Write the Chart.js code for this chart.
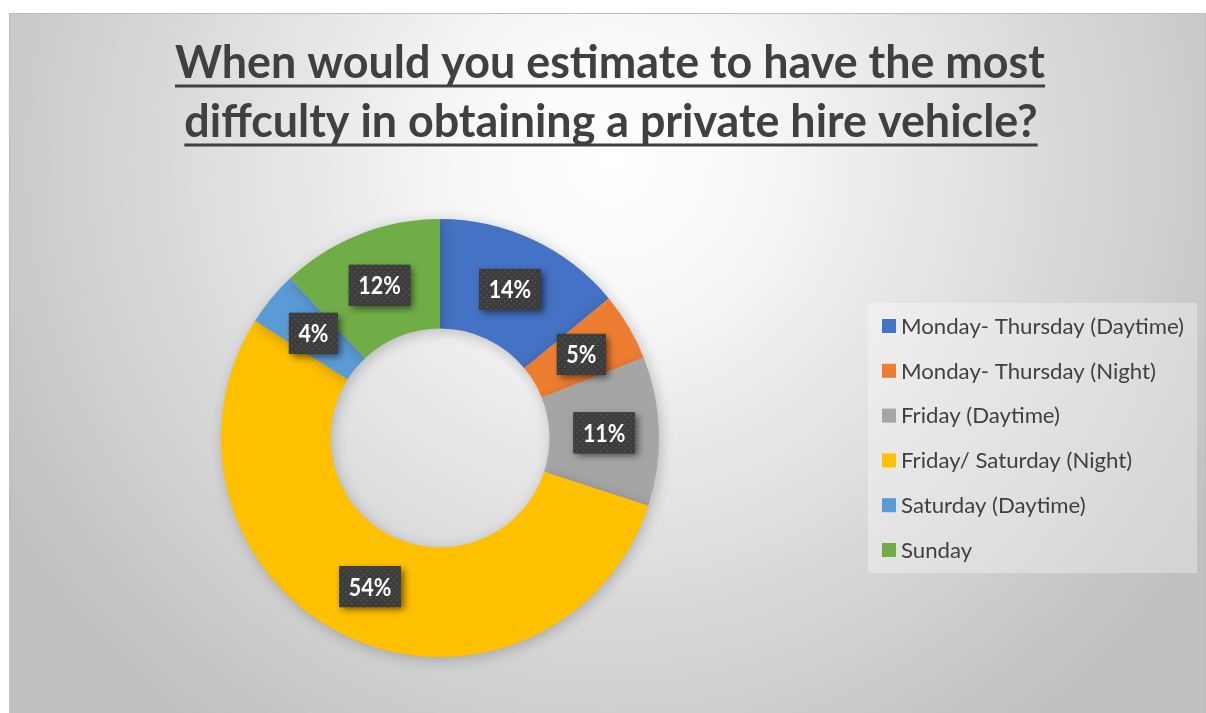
<!DOCTYPE html>
<html>
<head>
<meta charset="utf-8">
<script src="https://cdn.jsdelivr.net/npm/chart.js@4"></script>
<style>
  html, body { margin: 0; padding: 0; background: #ffffff; }
  #wrap { position: relative; width: 1206px; height: 713px; }
</style>
</head>
<body>
<div id="wrap"><canvas id="donut" width="1206" height="713"></canvas></div>
<script>
// -----------------------------
// Data
// -----------------------------
const titleLines = [
  "When would you estimate to have the most",
  "diffculty in obtaining a private hire vehicle?"
];

const categories = [
  "Monday- Thursday (Daytime)",
  "Monday- Thursday (Night)",
  "Friday (Daytime)",
  "Friday/ Saturday (Night)",
  "Saturday (Daytime)",
  "Sunday"
];

const shares = [14, 5, 11, 54, 4, 12];

const sliceColors = ["#4472C4", "#ED7D31", "#A5A5A5", "#FFC000", "#5B9BD5", "#70AD47"];

const FONT = "Lato, 'Open Sans', sans-serif";
const TEXT = "#404040";


// -----------------------------
// Background panel + title
// -----------------------------
const panelPlugin = {
  id: "panel",
  beforeDraw(chart) {
    const ctx = chart.ctx;
    ctx.save();
    ctx.fillStyle = "#ffffff";
    ctx.fillRect(0, 0, chart.width, chart.height);

    const g = ctx.createRadialGradient(610, 160, 0, 610, 160, 700);
    g.addColorStop(0, "#ffffff");
    g.addColorStop(0.2, "#f8f8f8");
    g.addColorStop(1, "#c0c0c0");
    ctx.fillStyle = g;
    ctx.fillRect(9, 13, chart.width - 9, chart.height - 13);

    ctx.strokeStyle = "#bdbdbd";
    ctx.lineWidth = 1;
    ctx.strokeRect(9.5, 13.5, chart.width - 10, chart.height - 13);

    // title, squeezed to the narrow width of the original face
    ctx.fillStyle = TEXT;
    ctx.font = "bold 45px " + FONT;
    ctx.textBaseline = "alphabetic";
    const targets = [{ w: 870, cx: 610, y: 78, u: 86 }, { w: 863, cx: 611, y: 137, u: 145 }];
    const sx = targets[0].w / ctx.measureText(titleLines[0]).width;
    titleLines.forEach((line, i) => {
      const t = targets[i];
      const w = ctx.measureText(line).width * sx;
      const x0 = t.cx - w / 2;
      ctx.save();
      ctx.translate(x0, t.y);
      ctx.scale(sx, 1);
      ctx.fillText(line, 0, 0);
      ctx.restore();
      ctx.fillRect(x0, t.u - 1.5, w, 3);
    });
    ctx.restore();
  }
};


// -----------------------------
// Ring shadow
// -----------------------------
const shadowPlugin = {
  id: "ringShadow",
  beforeDatasetsDraw(chart) {
    const ctx = chart.ctx;
    ctx.save();
    ctx.shadowColor = "rgba(0,0,0,0.22)";
    ctx.shadowBlur = 14;
    ctx.shadowOffsetX = 2;
    ctx.shadowOffsetY = 3;
  },
  afterDatasetsDraw(chart) {
    chart.ctx.restore();
  }
};


// -----------------------------
// Value boxes + legend
// -----------------------------
function makeTexture(ctx) {
  const c = document.createElement("canvas");
  c.width = 6;
  c.height = 6;
  const p = c.getContext("2d");
  p.fillStyle = "#3c3c3c";
  p.fillRect(0, 0, 6, 6);
  p.fillStyle = "#4a4a4a";
  p.fillRect(0, 0, 2, 2);
  p.fillRect(3, 3, 2, 2);
  return ctx.createPattern(c, "repeat");
}

const labelPlugin = {
  id: "valueBoxes",
  afterDatasetsDraw(chart) {
    const ctx = chart.ctx;
    const meta = chart.getDatasetMeta(0);
    const texture = makeTexture(ctx);
    ctx.save();
    ctx.font = "bold 25px " + FONT;
    ctx.textBaseline = "middle";
    const lblScale = 0.86;

    meta.data.forEach((arc, i) => {
      const p = arc.tooltipPosition();
      const txt = shares[i] + "%";
      const tw = ctx.measureText(txt).width * lblScale;
      const w = tw + 19;
      const h = 41;
      const x = p.x - w / 2;
      const y = p.y - h / 2;

      ctx.save();
      ctx.shadowColor = "rgba(0,0,0,0.55)";
      ctx.shadowBlur = 7;
      ctx.shadowOffsetX = 3;
      ctx.shadowOffsetY = 3;
      ctx.fillStyle = "#3c3c3c";
      ctx.fillRect(x, y, w, h);
      ctx.restore();
      ctx.fillStyle = texture;
      ctx.fillRect(x, y, w, h);

      ctx.fillStyle = "#ffffff";
      ctx.save();
      ctx.translate(p.x - tw / 2, p.y + 1);
      ctx.scale(lblScale, 1);
      ctx.fillText(txt, 0, 0);
      ctx.restore();
    });
    ctx.restore();

    // legend
    const lx = 868, ly = 303, lw = 329, lh = 270;
    ctx.save();
    ctx.fillStyle = "rgba(255,255,255,0.32)";
    ctx.fillRect(lx, ly, lw, lh);

    ctx.font = "21px " + FONT;
    ctx.textBaseline = "middle";
    const lsx = 283 / ctx.measureText(categories[0]).width;
    categories.forEach((name, i) => {
      const cy = 326 + i * 44.8;
      ctx.fillStyle = sliceColors[i];
      ctx.fillRect(882, cy - 7, 14, 14);
      ctx.fillStyle = TEXT;
      ctx.save();
      ctx.translate(901, cy + 1);
      ctx.scale(lsx, 1);
      ctx.fillText(name, 0, 0);
      ctx.restore();
    });
    ctx.restore();
  }
};


// -----------------------------
// Chart
// -----------------------------
new Chart(document.getElementById("donut"), {
  type: "doughnut",
  data: {
    labels: categories,
    datasets: [{
      data: shares,
      backgroundColor: sliceColors,
      borderWidth: 0
    }]
  },
  options: {
    responsive: false,
    animation: false,
    cutout: "50%",
    layout: {
      padding: { left: 221, right: 547, top: 219, bottom: 56 }
    },
    plugins: {
      legend: { display: false },
      title: { display: false },
      tooltip: { enabled: false }
    }
  },
  plugins: [panelPlugin, shadowPlugin, labelPlugin]
});
</script>
</body>
</html>
